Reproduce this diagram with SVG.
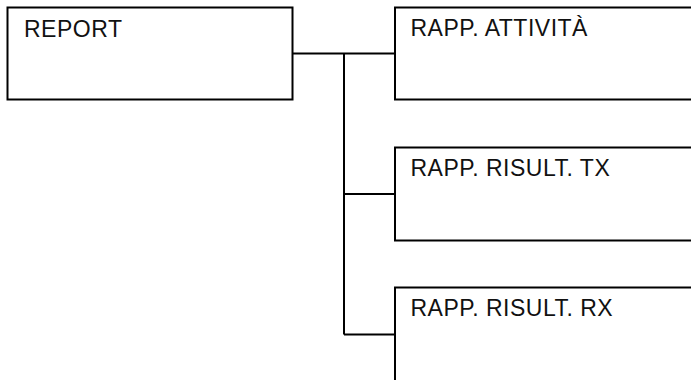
<svg xmlns="http://www.w3.org/2000/svg" width="691" height="380" viewBox="0 0 691 380">
<style>
.box{fill:#fff;stroke:#000;stroke-width:2}
.lbl{font-family:"Liberation Sans",Arial,Helvetica,sans-serif;font-size:23px;letter-spacing:0.5px;fill:#111}
.con{fill:none;stroke:#000;stroke-width:2}
</style>
<rect width="691" height="380" fill="#fff"/>
<g id="connectors">
<path class="con" d="M292.5 53.5H395M344 53.5V334.5M344 194H395M344 334.5H395"/>
</g>
<g id="report">
<rect class="box" x="7.5" y="7.5" width="285" height="92"/>
<text class="lbl" x="24" y="36.7">REPORT</text>
</g>
<g id="rapp-attivita">
<rect class="box" x="395" y="7.5" width="310" height="92"/>
<text class="lbl" x="410.5" y="35.7">RAPP. ATTIVITÀ</text>
</g>
<g id="rapp-risult-tx">
<rect class="box" x="395" y="147.5" width="310" height="93"/>
<text class="lbl" x="410.5" y="175.7">RAPP. RISULT. TX</text>
</g>
<g id="rapp-risult-rx">
<rect class="box" x="395" y="287.5" width="310" height="110"/>
<text class="lbl" x="410.5" y="315.7">RAPP. RISULT. RX</text>
</g>
</svg>
